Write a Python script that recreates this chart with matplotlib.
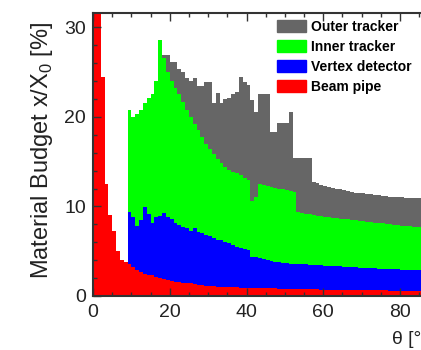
import numpy as np
import matplotlib
matplotlib.use("Agg")
from matplotlib import pyplot as plt
from matplotlib.patches import Patch
from matplotlib.ticker import MultipleLocator

plt.rcParams['font.family'] = ['Liberation Sans', 'DejaVu Sans']
plt.rcParams['mathtext.fontset'] = 'custom'
plt.rcParams['mathtext.rm'] = 'Liberation Sans'

# 1 degree bins, values are the stacked (cumulative) tops in % X0
theta_edges = np.arange(0, 91, 1)

beam_pipe = [32, 32, 24.5, 12.5, 9.0, 7.3, 5.0, 4.0, 3.8, 3.6,
             3.2, 2.9, 2.7, 2.5, 2.4, 2.3, 2.1, 2.0, 1.9, 1.8,
             1.7, 1.6, 1.55, 1.5, 1.45, 1.4, 1.3, 1.25, 1.2, 1.15,
             1.1, 1.08, 1.06, 1.04, 1.02, 1.0, 0.98, 0.96, 0.94, 0.92,
             0.9, 0.9, 0.9, 0.9, 0.88, 0.86, 0.85, 0.84, 0.83, 0.82,
             0.8, 0.8, 0.78, 0.78, 0.76, 0.76, 0.75, 0.74, 0.73, 0.72,
             0.71, 0.7, 0.7, 0.69, 0.68, 0.68, 0.67, 0.66, 0.66, 0.65,
             0.65, 0.64, 0.64, 0.63, 0.63, 0.62, 0.62, 0.61, 0.61, 0.6,
             0.6, 0.6, 0.59, 0.59, 0.58, 0.58, 0.58, 0.57, 0.57, 0.57]

vertex_start = 9
vertex = [9.4, 8.8, 7.8, 8.5, 9.9, 9.1, 8.2, 8.8, 8.9, 9.3,
          8.8, 8.6, 8.1, 7.9, 7.7, 7.6, 7.3, 7.6, 7.2, 7.0,
          6.8, 6.7, 6.5, 6.3, 6.2, 6.0, 5.9, 5.7, 5.5, 5.4,
          5.2, 5.1, 4.4, 4.3, 4.2, 4.1, 4.0, 3.9, 3.8, 3.75,
          3.7, 3.65, 3.62, 3.6, 3.57, 3.55, 3.52, 3.5, 3.47, 3.45,
          3.42, 3.4, 3.37, 3.35, 3.32, 3.3, 3.27, 3.25, 3.22, 3.2,
          3.18, 3.15, 3.13, 3.11, 3.09, 3.07, 3.05, 3.03, 3.01, 2.99,
          2.97, 2.95, 2.93, 2.92, 2.91, 2.9, 2.89, 2.88, 2.87, 2.86,
          2.85]

inner_start = 9
inner = [20.8, 20.0, 20.3, 20.8, 21.5, 22.1, 22.5, 24.0, 28.6, 26.6,
         25.0, 24.0, 23.2, 22.5, 21.7, 20.8, 20.0, 19.2, 18.5, 17.8,
         17.0, 16.4, 15.9, 15.3, 14.8, 14.4, 14.1, 13.9, 13.7, 13.5,
         13.2, 12.9, 10.6, 11.0, 12.5, 12.4, 12.3, 12.2, 12.1, 12.0,
         11.9, 11.8, 11.7, 11.6, 9.4, 9.3, 9.2, 9.1, 9.0, 8.95,
         8.9, 8.85, 8.8, 8.75, 8.7, 8.65, 8.6, 8.55, 8.5, 8.45,
         8.4, 8.35, 8.3, 8.25, 8.2, 8.15, 8.1, 8.05, 8.0, 7.95,
         7.9, 7.85, 7.8, 7.77, 7.74, 7.71, 7.68, 7.66, 7.64, 7.62,
         7.6]

outer_start = 18
outer = [26.9, 26.9, 26.1, 26.1, 25.4, 25.0, 24.3, 24.0, 24.3, 23.4,
         23.4, 23.9, 23.9, 21.5, 22.7, 21.5, 22.0, 22.1, 22.5, 22.8,
         24.5, 23.9, 23.6, 21.9, 20.6, 22.5, 22.5, 22.5, 18.3, 18.3,
         19.3, 19.3, 19.3, 20.6, 15.4, 15.4, 15.4, 15.4, 15.4, 12.7,
         12.6, 12.4, 12.3, 12.2, 12.1, 12.0, 11.9, 11.8, 11.7, 11.6,
         11.55, 11.5, 11.45, 11.4, 11.35, 11.3, 11.25, 11.2, 11.15, 11.1,
         11.05, 11.0, 11.0, 10.95, 10.95, 10.9, 10.9, 10.9, 10.85, 10.85,
         10.8, 10.8]

labels = ['Outer tracker', 'Inner tracker', 'Vertex detector', 'Beam pipe']
colors = ['#666666', '#00ff00', '#0000ff', '#ff0000']

fig = plt.figure(figsize=(4.21, 3.5), dpi=100)
ax = fig.add_axes([0.2209, 0.1543, 0.8204, 0.8086])

# draw back to front, each layer is the cumulative sum
ax.stairs(outer, theta_edges[outer_start:], fill=True, color=colors[0], lw=0)
ax.stairs(inner, theta_edges[inner_start:], fill=True, color=colors[1], lw=0)
ax.stairs(vertex, theta_edges[vertex_start:], fill=True, color=colors[2], lw=0)
ax.stairs(beam_pipe, theta_edges, fill=True, color=colors[3], lw=0)

ax.set_xlim(0, 90)
ax.set_ylim(0, 31.6)
ax.xaxis.set_major_locator(MultipleLocator(20))
ax.xaxis.set_minor_locator(MultipleLocator(5))
ax.yaxis.set_major_locator(MultipleLocator(10))
ax.yaxis.set_minor_locator(MultipleLocator(2))
ax.tick_params(which='both', direction='in', top=True, right=True,
               colors='#333333', labelcolor='#222222', labelsize=14)
ax.tick_params(which='major', length=6, width=1)
ax.tick_params(which='minor', length=3, width=1)
ax.tick_params(axis='x', pad=6)
ax.tick_params(axis='y', pad=5)
for s in ax.spines.values():
    s.set_linewidth(1.5)
    s.set_color('#333333')

ax.set_ylabel(r'Material Budget x/X$_0$ [%]', fontsize=17, color='#222222')
ax.yaxis.set_label_coords(-0.11, 0.515)
fig.text(392 / 421, 1 - 339 / 350, u'\u03b8 [\u00b0]', fontsize=14,
         color='#222222', ha='left', va='center')

handles = [Patch(color=c) for c in colors]
fig.legend(handles, labels, loc='upper left',
           bbox_to_anchor=(277 / 421, 1 - 20 / 350), frameon=False,
           prop={'weight': 'bold', 'size': 10}, handlelength=2.1,
           handleheight=0.95, labelspacing=0.42, handletextpad=0.36,
           borderpad=0, borderaxespad=0)

fig.savefig('out.png', dpi=100)
